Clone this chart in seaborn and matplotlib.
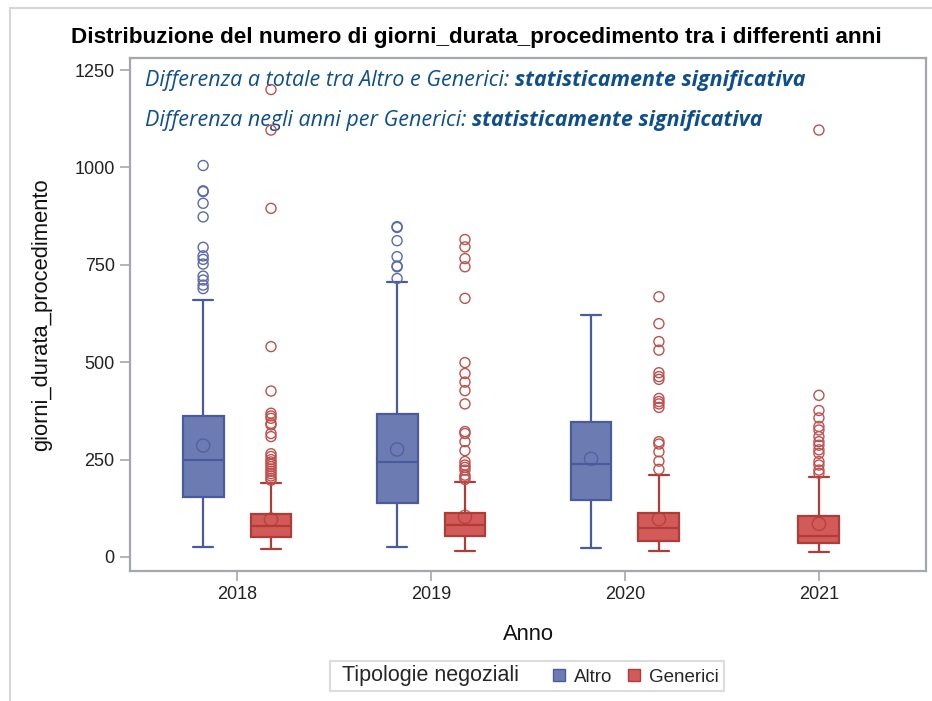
import numpy as np
import pandas as pd
import matplotlib
matplotlib.use("Agg")
import matplotlib.pyplot as plt
from matplotlib.patches import Patch, Rectangle
import seaborn as sns

# five-number summaries (whisker low, q1, median, q3, whisker high)
altro_years = [2018, 2019, 2020]
altro_low = [25, 26, 24]
altro_q1 = [153, 138, 146]
altro_med = [250, 245, 239]
altro_q3 = [362, 366, 347]
altro_high = [660, 705, 622]
altro_mean = [286, 276, 252]
altro_out_2018 = [1005, 940, 938, 908, 873, 795, 773, 764, 752, 721, 711, 698, 689]
altro_out_2019 = [848, 846, 812, 771, 747, 745, 715]
altro_out_2020 = []

gen_years = [2018, 2019, 2020, 2021]
gen_low = [20, 16, 16, 14]
gen_q1 = [51, 54, 42, 35]
gen_med = [80, 82, 74, 54]
gen_q3 = [110, 112, 112, 104]
gen_high = [191, 192, 211, 205]
gen_mean = [96, 103, 97, 85]
gen_out_2018 = [1200, 1096, 895, 540, 426, 369, 362, 356, 343, 339, 317, 309,
                265, 258, 250, 244, 238, 232, 226, 220, 214, 208, 202, 197]
gen_out_2019 = [815, 796, 766, 745, 664, 499, 471, 449, 427, 393, 322, 317,
                296, 273, 245, 236, 230, 223, 210, 205, 199]
gen_out_2020 = [668, 599, 553, 531, 473, 463, 456, 407, 399, 393, 384,
                296, 290, 270, 246, 225]
gen_out_2021 = [1096, 415, 376, 357, 335, 326, 309, 296, 287, 275, 266, 245, 236, 223, 215]

altro_outliers = [altro_out_2018, altro_out_2019, altro_out_2020]
gen_outliers = [gen_out_2018, gen_out_2019, gen_out_2020, gen_out_2021]

tick_years = [2018, 2019, 2020, 2021]

# colours
altro_fill, altro_edge, altro_pt = "#6c7cb3", "#4a5a9e", "#5b69ab"
gen_fill, gen_edge, gen_pt = "#d25a59", "#b03c38", "#c0504d"
text_blue = "#0e4f8b"
grey = "#a4a7ab"

# x positions: shift pairs apart, single box stays centred
offset = 0.175
altro_pos = [y - offset for y in altro_years]
gen_pos = [y + offset if y in altro_years else y for y in gen_years]

def box_frame(pos, low, q1, med, q3, high):
    rows = []
    for p, a, b, c, d, e in zip(pos, low, q1, med, q3, high):
        for v in (a, b, c, d, e):
            rows.append({"pos": p, "giorni": v})
    return pd.DataFrame(rows)

def point_frame(pos, values):
    rows = []
    for p, vals in zip(pos, values):
        for v in vals:
            rows.append({"pos": p, "giorni": v})
    return pd.DataFrame(rows, columns=["pos", "giorni"])

df_altro = box_frame(altro_pos, altro_low, altro_q1, altro_med, altro_q3, altro_high)
df_gen = box_frame(gen_pos, gen_low, gen_q1, gen_med, gen_q3, gen_high)

sns.set_theme(style="white")
plt.rcParams["font.family"] = ["Liberation Sans", "DejaVu Sans"]

fig = plt.figure(figsize=(9.32, 7.01), dpi=100)
ax = fig.add_axes([130 / 932, 1 - 571 / 701, 796 / 932, 513 / 701])

box_w = 0.211
for df, pos, fill, edge in [(df_altro, altro_pos, altro_fill, altro_edge),
                            (df_gen, gen_pos, gen_fill, gen_edge)]:
    native = np.diff(sorted(set(pos))).min() if len(set(pos)) > 1 else 1.0
    sns.boxplot(data=df, x="pos", y="giorni", native_scale=True, color=fill,
                linecolor=edge, saturation=1, width=box_w / native,
                whis=(0, 100), showfliers=False, linewidth=1.6, ax=ax)

# outliers and means as hollow circles
for pos, outs, means, col, edge in [(altro_pos, altro_outliers, altro_mean, altro_pt, altro_edge),
                                    (gen_pos, gen_outliers, gen_mean, gen_pt, gen_edge)]:
    dfo = point_frame(pos, outs)
    if len(dfo):
        sns.scatterplot(data=dfo, x="pos", y="giorni", color=col, s=52,
                        linewidth=1.0, ax=ax, legend=False, zorder=4)
        coll = ax.collections[-1]
        coll.set_facecolor("none")
        coll.set_edgecolor(col)
    dfm = pd.DataFrame({"pos": pos, "giorni": means})
    sns.scatterplot(data=dfm, x="pos", y="giorni", color=edge, s=90,
                    linewidth=1.0, ax=ax, legend=False, zorder=4)
    coll = ax.collections[-1]
    coll.set_facecolor("none")
    coll.set_edgecolor(edge)
    coll.set_alpha(0.8)

ax.set_xlim(2017.448, 2021.552)
ax.set_ylim(-36, 1281)
ax.set_xticks(tick_years)
ax.set_xticklabels([str(y) for y in tick_years])
ax.set_yticks([0, 250, 500, 750, 1000, 1250])
ax.tick_params(axis="both", which="both", direction="out", length=7, width=1.2,
               color=grey, labelsize=13, labelcolor="#222222", pad=4,
               bottom=True, left=True)
for sp in ax.spines.values():
    sp.set_color(grey)
    sp.set_linewidth(1.6)
ax.set_xlabel("Anno", fontsize=15.8, labelpad=15, color="#111111")
ax.set_ylabel("giorni_durata_procedimento", fontsize=15.8, labelpad=16, color="#111111")

# annotations
it_font = ["Open Sans", "DejaVu Sans"]
for yy, first in [(0.957, "Differenza a totale tra Altro e Generici: "),
                  (0.879, "Differenza negli anni per Generici: ")]:
    t1 = ax.text(0.019, yy, first, transform=ax.transAxes, fontsize=15.5,
                 style="italic", color=text_blue, family=it_font, va="center", ha="left")
    ax.annotate("statisticamente significativa", xy=(1, 0), xycoords=t1,
                va="bottom", ha="left", fontsize=15.5, style="italic",
                weight="bold", color=text_blue, family=it_font)

fig.text(476 / 932, 1 - 38 / 701,
         "Distribuzione del numero di giorni_durata_procedimento tra i differenti anni",
         ha="center", va="center", fontsize=16.2, weight="bold", color="#000000")

# legend with inline title
handles = [Patch(facecolor="none", edgecolor="none"),
           Patch(facecolor=altro_fill, edgecolor=altro_edge),
           Patch(facecolor=gen_fill, edgecolor=gen_edge)]
labels = ["Tipologie negoziali   ", "Altro", "Generici"]
leg = fig.legend(handles, labels, loc="center", bbox_to_anchor=(527 / 932, 1 - 676 / 701),
                 ncol=3, frameon=True, fontsize=13.5, handlelength=0.62, handleheight=0.62,
                 handletextpad=0.5, columnspacing=0.85, borderpad=0.25, fancybox=False)
leg.get_frame().set_edgecolor("#d4d4d4")
leg.get_frame().set_linewidth(1.5)
leg.get_texts()[0].set_fontsize(15.5)
try:
    # shrink the empty handle in front of the title entry
    entry0 = leg._legend_handle_box.get_children()[0].get_children()[0]
    entry0.get_children()[0].width = 5
    entry0.sep = 0
except Exception:
    pass

# outer frame of the figure
fig.add_artist(Rectangle((10 / 932, -0.1), 1.0, (701 - 8) / 701 + 0.1,
                         transform=fig.transFigure, fill=False,
                         edgecolor="#d6d6d6", linewidth=1.5))

fig.savefig("out.png", dpi=100)
